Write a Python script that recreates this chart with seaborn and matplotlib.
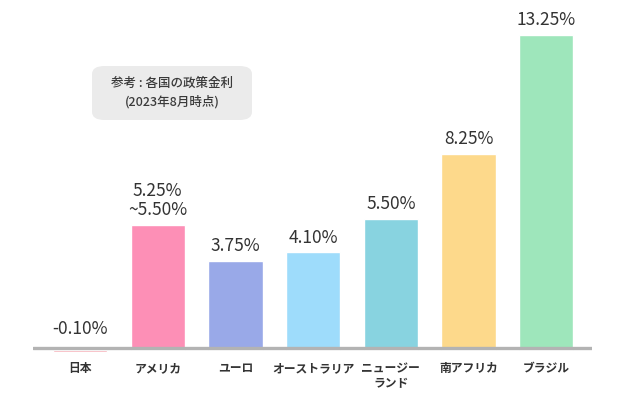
import numpy as np
import pandas as pd
import seaborn as sns
import matplotlib.pyplot as plt
from matplotlib.patches import FancyBboxPatch

countries = ["日本", "アメリカ", "ユーロ", "オーストラリア", "ニュージー\nランド", "南アフリカ", "ブラジル"]
rates = [-0.10, 5.25, 3.75, 4.10, 5.50, 8.25, 13.25]
rate_labels = ["-0.10%", "5.25%\n~5.50%", "3.75%", "4.10%", "5.50%", "8.25%", "13.25%"]
colors = ["#f5a0aa", "#fd8fb6", "#99a9e8", "#9edcfb", "#88d3e0", "#fdd98b", "#9ee6bb"]

sns.set_style("white")
plt.rcParams['font.family'] = ['Noto Sans CJK JP', 'DejaVu Sans']

df = pd.DataFrame({"country": countries, "rate": rates})

fig = plt.figure(figsize=(6.25, 4), dpi=100)
ax = fig.add_axes([33/625, 0, 559/625, 1])
sns.barplot(data=df, x="country", y="rate", hue="country", palette=colors,
            width=0.7, legend=False, saturation=1, ax=ax)

ax.set_xlim(-0.605, 6.59)
ax.set_ylim(-2.1, 14.7)
# baseline sits just above zero so the small negative bar peeks out below
ax.axhline(0.085, color="#b3b3b3", lw=2.4, zorder=3)

# value labels
for i, (v, lab) in enumerate(zip(rates, rate_labels)):
    off = 9 if v < 0 else 4
    ax.annotate(lab, (i, max(v, 0)), xytext=(0, off), textcoords="offset points",
                ha="center", va="bottom", fontsize=12.5, color="#333333",
                linespacing=1.1)

# category labels
for i, c in enumerate(countries):
    ax.text(i, -0.5, c, ha="center", va="top", fontsize=8.5, fontweight="bold",
            color="#333333", linespacing=1.2)

# note box
box = FancyBboxPatch((92/625, 1 - 120/400), 160/625, 54/400,
                     boxstyle="round,pad=0,rounding_size=0.02",
                     transform=fig.transFigure, facecolor="#ebebeb", edgecolor="none")
fig.patches.append(box)
fig.text(172/625, 1 - 93/400, "参考 : 各国の政策金利\n(2023年8月時点)", ha="center", va="center",
         fontsize=9, fontweight="medium", color="#3a3a3a", linespacing=1.5)

ax.set_axis_off()
plt.savefig("out.png", dpi=100)
